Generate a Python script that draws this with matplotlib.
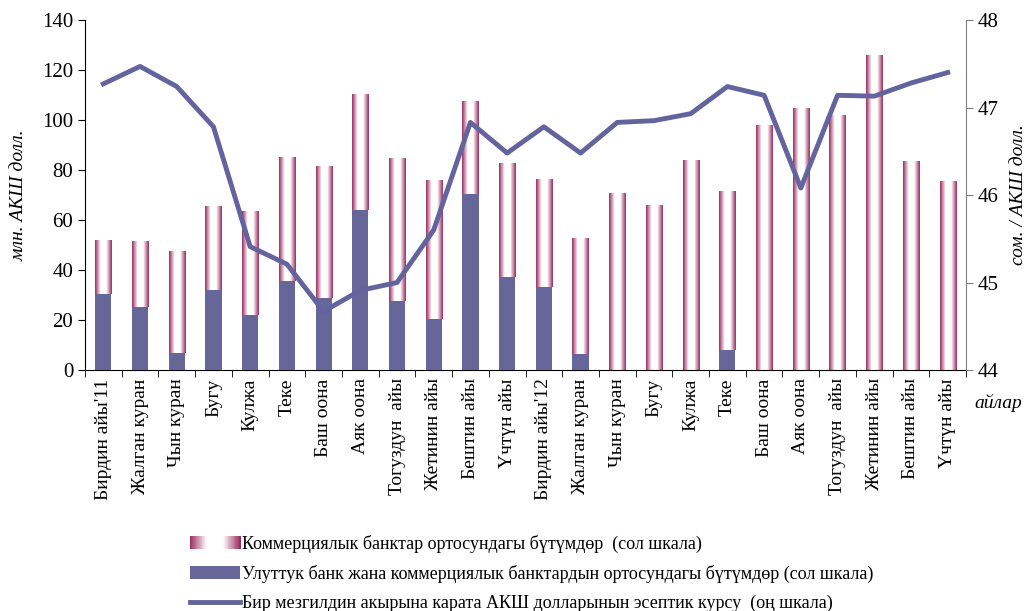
import matplotlib
matplotlib.use("Agg")
import matplotlib.pyplot as plt
import numpy as np
from matplotlib.colors import LinearSegmentedColormap
from matplotlib.patches import Rectangle
from matplotlib.lines import Line2D
from matplotlib.legend_handler import HandlerBase

plt.rcParams['font.family'] = ['Liberation Serif', 'DejaVu Serif']

months = ["Бирдин айы'11", "Жалган куран", "Чын куран", "Бугу", "Кулжа", "Теке",
          "Баш оона", "Аяк оона", "Тогуздун  айы", "Жетинин айы", "Бештин айы", "Үчтүн айы",
          "Бирдин айы'12", "Жалган куран", "Чын куран", "Бугу", "Кулжа", "Теке",
          "Баш оона", "Аяк оона", "Тогуздун  айы", "Жетинин айы", "Бештин айы", "Үчтүн айы"]
total = [52, 51.6, 47.6, 65.6, 63.6, 85.2, 81.6, 110.3, 84.8, 76, 107.6, 82.8,
         76.4, 52.8, 70.8, 66, 84, 71.6, 98, 104.8, 102, 126, 83.6, 75.6]
national = [30.4, 25.2, 6.9, 32, 22, 35.6, 28.8, 64, 27.6, 20.4, 70.4, 37.2,
            33.2, 6.4, 0, 0, 0, 8, 0, 0, 0, 0, 0, 0]
rate = [47.27, 47.47, 47.24, 46.78, 45.41, 45.21, 44.67, 44.91, 45.0, 45.6, 46.83, 46.48,
        46.78, 46.48, 46.83, 46.85, 46.93, 47.24, 47.14, 46.08, 47.14, 47.13, 47.28, 47.40]

maroon = '#9b2d5f'
navy = '#666699'
grad = LinearSegmentedColormap.from_list('g', [maroon, '#ffffff', '#ffffff', maroon])
grad_arr = np.linspace(0, 1, 64).reshape(1, -1)

fig = plt.figure(figsize=(10.31, 6.11), dpi=100)
ax = fig.add_axes([0.0824, 0.3944, 0.8546, 0.5728])
ax2 = ax.twinx()

x = np.arange(len(months))
w = 0.44
commercial = [t - n for t, n in zip(total, national)]
bars = ax.bar(x, commercial, w, bottom=national, color='none', edgecolor='none')
for b in bars:
    bx, by = b.get_x(), b.get_y()
    ax.imshow(grad_arr, cmap=grad, aspect='auto', interpolation='bilinear',
              extent=(bx, bx + b.get_width(), by, by + b.get_height()), zorder=2)
ax.bar(x, national, w, color=navy, zorder=3)

ax.set_xlim(-0.5, len(months) - 0.5)
ax.set_ylim(0, 140)
ax.set_yticks(range(0, 141, 20))
ax.set_xticks(x)
ax.set_xticklabels(months, rotation=90, fontsize=14)
ax.tick_params(axis='x', length=0, pad=6)
ax.set_xticks(np.arange(-0.5, len(months), 1), minor=True)
ax.tick_params(axis='x', which='minor', length=5, direction='out')
ax.tick_params(axis='y', labelsize=15, direction='out', length=5)
ax.set_ylabel('млн. АКШ долл.', fontsize=14, style='italic', labelpad=10)
for s in ['top', 'right']:
    ax.spines[s].set_visible(False)

ax2.plot(x, rate, color='#63639e', lw=3.5, zorder=4)
ax2.set_ylim(44, 48)
ax2.set_yticks([44, 45, 46, 47, 48])
ax2.tick_params(axis='y', labelsize=15, direction='out', length=5, color='#808080')
ax2.set_ylabel('сом. / АКШ долл.', fontsize=14, style='italic', labelpad=8)
for s in ['top', 'left', 'bottom']:
    ax2.spines[s].set_visible(False)
ax2.spines['right'].set_color('#808080')
ax2.set_zorder(ax.get_zorder() + 1)
ax2.patch.set_visible(False)

fig.text(0.945, 0.332, 'айлар', fontsize=14, style='italic')


class GradHandler(HandlerBase):
    def create_artists(self, legend, orig, xd, yd, width, height, fontsize, trans):
        n = 60
        arts = []
        for i in range(n):
            r = Rectangle((xd + width * i / n, yd), width / n + 0.5, height,
                          facecolor=grad(i / (n - 1)), edgecolor='none', transform=trans)
            arts.append(r)
        return arts


h1 = Rectangle((0, 0), 1, 1)
h2 = Rectangle((0, 0), 1, 1, facecolor=navy)
h3 = Line2D([], [], color='#63639e', lw=3.5)
fig.legend([h1, h2, h3],
           ['Коммерциялык банктар ортосундагы бүтүмдөр  (сол шкала)',
            'Улуттук банк жана коммерциялык банктардын ортосундагы бүтүмдөр (сол шкала)',
            'Бир мезгилдин акырына карата АКШ долларынын эсептик курсу  (оң шкала)'],
           handler_map={h1: GradHandler()}, loc='upper left',
           bbox_to_anchor=(0.184, 0.125), frameon=False, fontsize=13,
           handlelength=2.8, handletextpad=0.1, labelspacing=0.66, borderaxespad=0,
           borderpad=0)

fig.savefig('out.png', dpi=100)
